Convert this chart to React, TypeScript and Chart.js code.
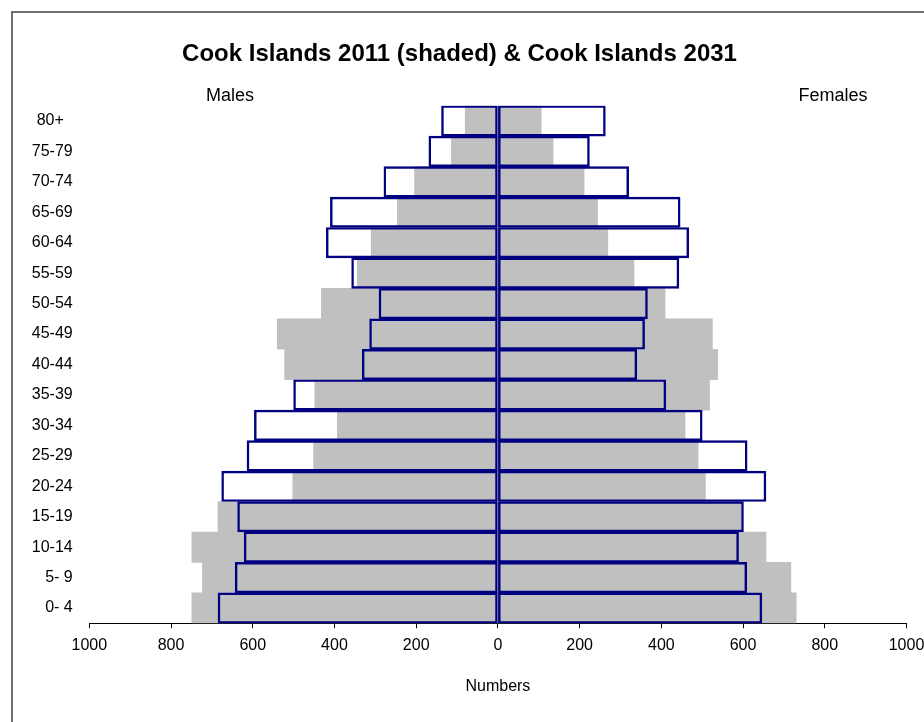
import React, { useEffect, useRef } from "react";
import { Chart, registerables } from "chart.js";

Chart.register(...registerables);

const titleText = "Cook Islands 2011 (shaded) & Cook Islands 2031";
const sexLabels = ["Males", "Females"];
const axisTitle = "Numbers";

const ageGroups = ["80+  ", "75-79", "70-74", "65-69", "60-64", "55-59", "50-54", "45-49", "40-44", "35-39", "30-34", "25-29", "20-24", "15-19", "10-14", "5- 9", "0- 4"];
const males2011 = [80, 114, 204, 246, 310, 344, 432, 540, 522, 448, 393, 451, 502, 685, 749, 723, 749];
const females2011 = [106, 135, 211, 244, 269, 333, 409, 525, 538, 518, 458, 490, 508, 595, 656, 717, 730];
const males2031 = [138, 169, 279, 410, 420, 358, 291, 314, 332, 500, 596, 614, 676, 637, 621, 643, 685];
const females2031 = [263, 224, 320, 446, 467, 443, 366, 359, 340, 411, 500, 610, 656, 601, 589, 609, 646];

const FONT = '"Liberation Sans", Arial, sans-serif';

const framePlugin = {
  id: "frameAndHeaders",
  beforeDraw(chart: any) {
    const ctx = chart.ctx;
    ctx.save();
    ctx.fillStyle = "#ffffff";
    ctx.fillRect(0, 0, chart.width, chart.height);
    ctx.restore();
  },
  afterDraw(chart: any) {
    const ctx = chart.ctx;
    ctx.save();
    ctx.strokeStyle = "#404040";
    ctx.lineWidth = 1.5;
    ctx.strokeRect(12, 12, chart.width + 20, chart.height + 20);
    ctx.font = "18px " + FONT;
    ctx.fillStyle = "#000000";
    ctx.textAlign = "center";
    ctx.textBaseline = "middle";
    ctx.fillText(sexLabels[0], 230, 96);
    ctx.fillText(sexLabels[1], 833, 96);
    ctx.restore();
  },
};

export default function App() {
  const ref = useRef<HTMLCanvasElement | null>(null);

  useEffect(() => {
    if (!ref.current) return;
    const navy = "#000080";
    const grey = "#C0C0C0";
    const chart = new Chart(ref.current, {
      type: "bar",
      data: {
        labels: ageGroups,
        datasets: [
          {
            label: "Males 2031",
            data: males2031.map((v) => -v),
            backgroundColor: "rgba(255,255,255,0)",
            borderColor: navy,
            borderWidth: 1.8,
            borderSkipped: false,
          },
          {
            label: "Females 2031",
            data: females2031,
            backgroundColor: "rgba(255,255,255,0)",
            borderColor: navy,
            borderWidth: 1.8,
            borderSkipped: false,
          },
          {
            label: "Males 2011",
            data: males2011.map((v) => -v),
            backgroundColor: grey,
            borderWidth: 0,
          },
          {
            label: "Females 2011",
            data: females2011,
            backgroundColor: grey,
            borderWidth: 0,
          },
        ],
      },
      options: {
        indexAxis: "y",
        responsive: false,
        animation: false,
        layout: { padding: { left: 12.5, right: 17.5, top: 0, bottom: 0 } },
        datasets: {
          bar: { grouped: false, barPercentage: 1, categoryPercentage: 1 },
        },
        plugins: {
          legend: { display: false },
          tooltip: { enabled: false },
          title: {
            display: true,
            text: titleText,
            color: "#000000",
            font: { family: FONT, size: 24, weight: "bold" },
            padding: { top: 39.6, bottom: 37.3 },
          },
        },
        scales: {
          x: {
            type: "linear",
            min: -1000,
            max: 1000,
            afterFit(scale: any) {
              scale.height = 722 - 623.3;
              scale.paddingLeft = 0;
              scale.paddingRight = 0;
            },
            ticks: {
              stepSize: 200,
              color: "#000000",
              font: { family: FONT, size: 16 },
              padding: 8,
              maxRotation: 0,
              callback: (v: any) => String(Math.abs(Number(v))),
            },
            grid: {
              drawOnChartArea: false,
              drawTicks: true,
              tickLength: 5,
              color: "#000000",
            },
            border: { display: true, color: "#000000", width: 1 },
            title: {
              display: true,
              text: axisTitle,
              color: "#000000",
              font: { family: FONT, size: 16 },
              padding: { top: 0, bottom: 25.4 },
            },
          },
          y: {
            type: "category",
            afterFit(scale: any) {
              scale.width = 89.3 - 12.5;
              scale.paddingTop = 0;
              scale.paddingBottom = 0;
            },
            ticks: {
              color: "#000000",
              font: { family: FONT, size: 16 },
              padding: 16.6,
              autoSkip: false,
            },
            grid: { display: false, drawTicks: false },
            border: { display: false },
          },
        },
      },
      plugins: [framePlugin],
    } as any);
    return () => chart.destroy();
  }, []);

  return (
    <div style={{ position: "absolute", left: 0, top: 0, width: 924, height: 722 }}>
      <canvas ref={ref} width={924} height={722} style={{ display: "block" }} />
    </div>
  );
}
